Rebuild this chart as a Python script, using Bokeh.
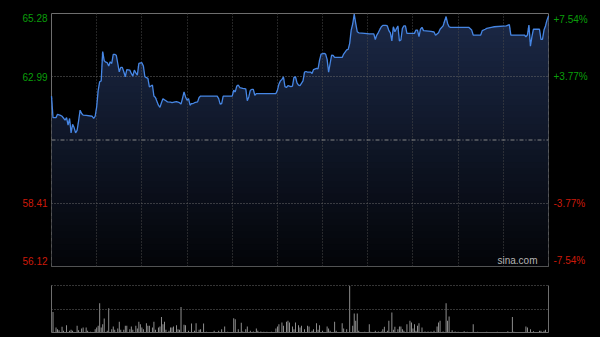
import numpy as np
from bokeh.plotting import figure
from bokeh.layouts import column, row
from bokeh.models import Range1d, FixedTicker, Grid, Span, Label, LinearAxis
from bokeh.core.properties import value
from bokeh.embed import file_html
from bokeh.resources import INLINE

# ---------------- data ----------------
session_minutes = 330          # HK session: 09:30-12:00, 13:00-16:00
prev_close = 60.70
price_ticks = [65.28, 62.99, 58.41, 56.12]
price_labels = ["65.28", "62.99", "58.41", "56.12"]
pct_labels = ["+7.54%", "+3.77%", "-3.77%", "-7.54%"]
time_grid = [30, 60, 90, 120, 150, 180, 210, 240, 270, 300]

minutes = [0, 1, 3, 4, 6, 7, 9, 10, 11, 12, 13, 14, 15, 16, 17, 18, 19, 20, 21, 23,
           27, 28, 29, 30, 31, 32, 33, 34, 35, 36, 37, 38, 39, 40, 41, 42, 43, 44, 45, 46,
           47, 48, 49, 50, 52, 53, 54, 55, 56, 57, 58, 60, 61, 62, 63, 64, 65, 67, 68, 69,
           71, 72, 73, 74, 76, 77, 79, 80, 82, 83, 85, 86, 87, 88, 89, 90, 91, 92, 93, 94,
           95, 97, 98, 99, 110, 111, 112, 113, 114, 120, 121, 122, 123, 124, 125, 127, 129, 130, 131, 132,
           133, 134, 135, 136, 149, 150, 151, 152, 153, 154, 155, 156, 157, 159, 160, 161, 162, 163, 164, 165,
           167, 168, 169, 170, 172, 173, 174, 176, 177, 178, 179, 181, 182, 183, 184, 185, 186, 187, 188, 193,
           194, 196, 197, 198, 199, 200, 201, 202, 203, 204, 208, 211, 214, 215, 216, 217, 219, 220, 222, 223,
           224, 225, 226, 227, 228, 230, 231, 232, 233, 234, 235, 236, 241, 242, 243, 244, 245, 246, 247, 252,
           254, 255, 257, 258, 260, 262, 263, 264, 265, 277, 279, 280, 285, 286, 288, 289, 292, 294, 302, 304,
           305, 314, 315, 316, 317, 318, 319, 320, 324, 325, 326, 327, 328, 329, 330]
prices = [62.29, 61.51, 61.51, 61.63, 61.59, 61.56, 61.42, 61.51, 61.24, 61.48, 60.96, 61.27, 61.15, 60.96, 61.05, 61.39, 61.78, 61.66, 61.60, 61.59,
          61.56, 61.48, 61.56, 61.90, 62.50, 62.81, 62.84, 63.90, 63.57, 63.52, 63.50, 63.38, 63.53, 63.47, 63.80, 63.80, 63.77, 63.47, 63.17, 63.33,
          63.33, 63.17, 62.99, 63.25, 63.23, 63.11, 63.01, 63.23, 63.13, 63.05, 63.47, 63.50, 63.38, 62.99, 62.96, 62.93, 62.62, 62.69, 62.29, 62.24,
          61.96, 61.88, 62.05, 62.19, 62.12, 62.08, 62.07, 62.05, 62.08, 62.09, 62.05, 62.00, 62.21, 62.44, 62.26, 62.14, 62.20, 61.96, 62.02, 62.02,
          62.05, 62.08, 62.24, 62.29, 62.29, 62.20, 62.00, 62.02, 62.29, 62.29, 62.50, 62.44, 62.65, 62.69, 62.60, 62.57, 62.55, 62.12, 62.26, 62.50,
          62.53, 62.53, 62.32, 62.38, 62.38, 62.50, 62.72, 62.84, 62.89, 62.99, 62.63, 62.60, 62.67, 62.63, 62.65, 62.97, 62.99, 62.77, 62.69, 62.67,
          62.84, 63.16, 63.18, 63.16, 63.16, 63.11, 63.25, 63.29, 63.28, 63.59, 63.81, 63.84, 63.81, 63.62, 63.16, 63.47, 63.77, 63.76, 63.69, 63.69,
          63.81, 63.96, 63.98, 64.20, 64.68, 64.90, 65.26, 64.92, 64.62, 64.58, 64.56, 64.54, 64.54, 64.34, 64.50, 64.59, 64.80, 64.85, 64.85, 64.83,
          64.66, 64.58, 64.29, 64.80, 64.62, 64.83, 64.29, 64.32, 64.74, 64.83, 64.83, 64.56, 64.56, 64.68, 64.68, 64.44, 64.71, 64.78, 64.66, 64.63,
          64.61, 64.49, 64.58, 64.71, 64.83, 65.17, 64.92, 64.80, 64.78, 64.78, 64.68, 64.50, 64.50, 64.66, 64.71, 64.74, 64.78, 64.80, 64.83, 64.88,
          64.50, 64.50, 64.44, 64.50, 64.86, 64.10, 64.44, 64.71, 64.71, 64.34, 64.34, 64.68, 64.83, 65.04, 65.19]

vol_minutes = [1, 3, 4, 5, 7, 8, 10, 12, 13, 14, 17, 18, 20, 21, 23, 24, 26, 29, 30, 31,
               32, 33, 34, 35, 37, 38, 40, 41, 42, 44, 45, 46, 48, 49, 50, 52, 53, 54, 56, 57,
               58, 59, 60, 61, 63, 64, 65, 67, 68, 69, 71, 72, 73, 74, 75, 76, 78, 79, 80, 81,
               83, 84, 85, 86, 88, 89, 91, 93, 95, 96, 98, 99, 101, 103, 108, 111, 113, 115, 117, 121,
               122, 124, 126, 127, 129, 130, 132, 134, 136, 137, 139, 141, 143, 146, 149, 150, 151, 153, 154, 156,
               157, 158, 160, 161, 162, 164, 165, 166, 168, 170, 171, 173, 174, 176, 177, 178, 180, 183, 184, 185,
               188, 189, 193, 194, 196, 198, 200, 201, 202, 203, 204, 208, 211, 212, 215, 217, 219, 220, 221, 223,
               224, 226, 227, 228, 230, 231, 232, 233, 234, 236, 238, 239, 240, 241, 242, 243, 244, 246, 248, 250,
               252, 254, 256, 257, 258, 260, 262, 263, 264, 266, 268, 270, 274, 276, 280, 283, 289, 296, 303, 306,
               307, 315, 316, 318, 320, 324, 325, 327, 328, 330]
volumes = [6200, 1500, 1000, 700, 1700, 500, 2200, 500, 800, 500, 2000, 700, 1200, 1500, 1500, 500, 200, 1000, 1500, 2000,
           8800, 1500, 2500, 4200, 500, 7300, 1000, 1800, 800, 1200, 3200, 800, 800, 2000, 2000, 1000, 1800, 800, 2000, 1200,
           3200, 2500, 1500, 1000, 2800, 2000, 2000, 1500, 3200, 800, 1500, 1800, 4700, 2500, 3200, 800, 500, 1500, 1500, 1800,
           2200, 1000, 800, 7700, 2300, 2200, 500, 2700, 500, 2800, 800, 1000, 2700, 200, 500, 500, 1000, 1800, 200, 4300,
           4000, 1000, 2900, 300, 1000, 1800, 500, 300, 1200, 500, 300, 200, 200, 200, 1200, 1800, 2500, 3000, 2000, 3200,
           3500, 3000, 1800, 1000, 3000, 2200, 1500, 2000, 1000, 2000, 1800, 500, 1000, 2800, 800, 2200, 500, 1800, 1200, 500,
           3200, 500, 2800, 1200, 1000, 14000, 2000, 5700, 3500, 5700, 500, 200, 2500, 200, 500, 300, 300, 1000, 1700, 500,
           3500, 6000, 800, 1700, 1000, 1800, 1800, 1000, 500, 2500, 3500, 3000, 1200, 2500, 500, 2000, 2800, 1500, 300, 300,
           300, 500, 1800, 3000, 3500, 300, 8800, 3500, 4800, 700, 300, 200, 400, 200, 2500, 200, 200, 200, 400, 4700,
           200, 1800, 1500, 1000, 400, 500, 500, 500, 800, 500]

# ---------------- style ----------------
BG = "#000000"
FONT = "Liberation Sans"
UP = "#0a9e0a"
DOWN = "#cc1a0a"
label_colors = [UP, UP, DOWN, DOWN]
label_baselines = ["top", "middle", "middle", "middle"]
label_dy = [0, 0, 0, -6]

TOP, BOTTOM = 13, 10
x_range = Range1d(0, session_minutes)
y_range = Range1d(price_ticks[-1], price_ticks[0])

p = figure(width=499, height=276, x_range=x_range, y_range=y_range,
           x_axis_type=None, y_axis_type=None, tools="",
           output_backend="svg", toolbar_location=None,
           min_border_left=1, min_border_right=1, min_border_top=TOP, min_border_bottom=BOTTOM,
           background_fill_color=BG, border_fill_color=BG,
           outline_line_color="#6e6e6e", outline_line_width=1)

t = np.array(minutes, dtype=float)
pr = np.array(prices, dtype=float)

# gradient fill under the price line, built from horizontal bands
nb = 40
lo0, hi0 = price_ticks[-1], price_ticks[0]
edges = np.linspace(lo0, hi0, nb + 1)
top_rgb = np.array([27, 40, 70], dtype=float)
bot_rgb = np.array([3, 4, 7], dtype=float)
for k in range(nb):
    lo, hi = edges[k], edges[k + 1]
    frac = (0.5 * (lo + hi) - lo0) / (hi0 - lo0)
    c = bot_rgb + (top_rgb - bot_rgb) * frac
    col = "#%02x%02x%02x" % tuple(int(round(v)) for v in c)
    base = lo - 0.5 * (hi - lo) if k > 0 else lo
    y2 = np.clip(pr, base, hi)
    p.varea(x=t, y1=np.full_like(t, base), y2=y2, fill_color=col, level="glyph")

p.add_layout(Grid(dimension=0, ticker=FixedTicker(ticks=time_grid),
                  grid_line_color="#4a4a4a", grid_line_dash="1 2", level="guide"))
p.add_layout(Grid(dimension=1, ticker=FixedTicker(ticks=[price_ticks[1], price_ticks[2]]),
                  grid_line_color="#6a6a6a", grid_line_dash="1 2", level="guide"))
p.add_layout(Span(location=prev_close, dimension="width", line_color="#858585",
                  line_dash="4 2 1 2", line_width=1, level="guide"))

p.line(t, pr, line_color="#4686e4", line_width=1.3, level="annotation")

p.add_layout(Label(x=session_minutes, y=price_ticks[-1], x_offset=-11, y_offset=1,
                   text="sina.com", text_align="right", text_baseline="bottom",
                   text_color="#b4b4b4", text_font=FONT, text_font_size="10px",
                   level="overlay"))


def label_column(width, labels, anchor, offset, align):
    f = figure(width=width, height=276, x_range=Range1d(0, 1), y_range=y_range,
               x_axis_type=None, y_axis_type=None, tools="",
               output_backend="svg", toolbar_location=None,
               min_border_left=0, min_border_right=0, min_border_top=TOP, min_border_bottom=BOTTOM,
               background_fill_color=BG, border_fill_color=BG, outline_line_color=None)
    f.text(x=[anchor] * len(labels), y=price_ticks, text=labels, x_offset=offset,
           y_offset=label_dy, text_align=align, text_baseline=label_baselines,
           text_color=label_colors, text_font=value(FONT), text_font_size="10px")
    return f


left = label_column(50, price_labels, 1, -3, "right")
right = label_column(51, pct_labels, 0, 4, "left")

# ---------------- volume panel ----------------
vmax = max(volumes)
vtop = vmax * 1.01
p2 = figure(width=600, height=61, x_range=x_range, y_range=Range1d(0, vtop),
            x_axis_type=None, y_axis_type=None, tools="",
            output_backend="svg", toolbar_location=None,
            min_border_left=51, min_border_right=52, min_border_top=9, min_border_bottom=5,
            background_fill_color=BG, border_fill_color=BG, outline_line_color=None)

for side in ("left", "right", "below"):
    ax = LinearAxis(ticker=FixedTicker(ticks=[]), axis_line_color="#6e6e6e",
                    major_tick_line_color=None, minor_tick_line_color=None)
    p2.add_layout(ax, side)

p2.add_layout(Grid(dimension=1, ticker=FixedTicker(ticks=[vtop / 2, vtop * 0.998]),
                   grid_line_color="#6a6a6a", grid_line_dash="1 2", level="guide"))

p2.vbar(x=vol_minutes, top=volumes, bottom=0, width=0.6,
        fill_color="#9c9c9c", line_color=None)

layout = column(row(left, p, right, spacing=0), p2, spacing=0,
                styles={"background-color": BG})
open("out.html", "w").write(file_html(layout, INLINE))
